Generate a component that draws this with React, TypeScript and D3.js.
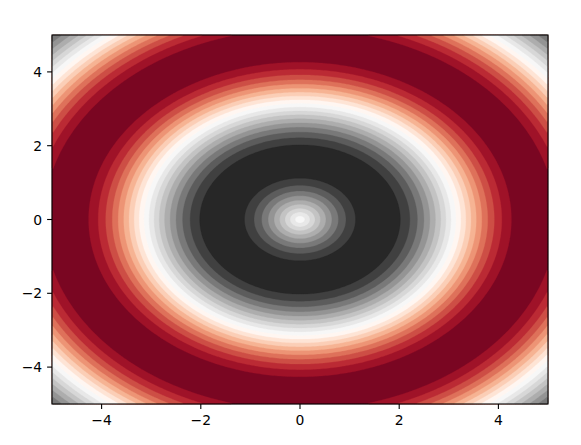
import React, { useEffect, useRef } from 'react'
import * as d3 from 'd3'

const xDomain = [-5, 5]
const yDomain = [-5, 5]
const levels = [-1.0, -0.9, -0.8, -0.7, -0.6, -0.5, -0.4, -0.3, -0.2, -0.1, 0.0, 0.1, 0.2, 0.3, 0.4, 0.5, 0.6, 0.7, 0.8, 0.9, 1.0]
const xTicks = [-4, -2, 0, 2, 4]
const yTicks = [-4, -2, 0, 2, 4]
// matplotlib RdGy stops
const rdgyStops = ['#67001f', '#b2182b', '#d6604d', '#f4a582', '#fddbc7', '#ffffff', '#e0e0e0', '#bababa', '#878787', '#4d4d4d', '#1a1a1a']
const gridSize = 240

const fmt = (v: number) => (v < 0 ? '\u2212' + Math.abs(v) : String(v))

export default function App() {
  const ref = useRef<SVGSVGElement | null>(null)

  useEffect(() => {
    const width = 581
    const height = 445
    const margin = { top: 35, right: 33, bottom: 41, left: 52 }
    const svg = d3.select(ref.current!)
    svg.selectAll('*').remove()

    const x = d3.scaleLinear().domain(xDomain).range([margin.left, width - margin.right])
    const y = d3.scaleLinear().domain(yDomain).range([height - margin.bottom, margin.top])

    const cmap = d3.scaleLinear<string>()
      .domain(rdgyStops.map((_, i) => i / (rdgyStops.length - 1)))
      .range(rdgyStops)
      .interpolate(d3.interpolateRgb)
    const lo = levels[0], hi = levels[levels.length - 1]
    const bandColor = (i: number) => cmap(((levels[i] + levels[i + 1]) / 2 - lo) / (hi - lo))

    // z = sin(r) sampled at cell centres
    const n = gridSize
    const dx = (xDomain[1] - xDomain[0]) / n
    const dy = (yDomain[1] - yDomain[0]) / n
    const values = new Array(n * n)
    for (let j = 0; j < n; j++) {
      const yy = yDomain[0] + (j + 0.5) * dy
      for (let i = 0; i < n; i++) {
        const xx = xDomain[0] + (i + 0.5) * dx
        values[j * n + i] = Math.sin(Math.sqrt(xx * xx + yy * yy))
      }
    }

    const contours = d3.contours().size([n, n]).thresholds(levels.slice(0, -1))(values)
    const proj = d3.geoTransform({
      point: function (px: number, py: number) {
        this.stream.point(x(xDomain[0] + px * dx), y(yDomain[0] + py * dy))
      }
    })
    const path = d3.geoPath(proj)

    const g = svg.append('g')
    g.append('rect')
      .attr('x', x(xDomain[0])).attr('y', y(yDomain[1]))
      .attr('width', x(xDomain[1]) - x(xDomain[0])).attr('height', y(yDomain[0]) - y(yDomain[1]))
      .attr('fill', bandColor(0))
    g.selectAll('path.band').data(contours).enter().append('path')
      .attr('class', 'band')
      .attr('d', d => path(d as any))
      .attr('fill', (d, i) => bandColor(i))
      .attr('stroke', (d, i) => bandColor(i))
      .attr('stroke-width', 0.3)

    // spines
    svg.append('rect')
      .attr('x', x(xDomain[0])).attr('y', y(yDomain[1]))
      .attr('width', x(xDomain[1]) - x(xDomain[0])).attr('height', y(yDomain[0]) - y(yDomain[1]))
      .attr('fill', 'none').attr('stroke', '#000').attr('stroke-width', 1.1)

    const tickLen = 4.9
    const font = 'DejaVu Sans'
    const xb = y(yDomain[0])
    const xa = svg.append('g')
    xTicks.forEach(t => {
      xa.append('line').attr('x1', x(t)).attr('x2', x(t)).attr('y1', xb).attr('y2', xb + tickLen)
        .attr('stroke', '#000').attr('stroke-width', 1.1)
      xa.append('text').attr('x', x(t)).attr('y', xb + 20.5).attr('text-anchor', 'middle')
        .attr('font-family', font).attr('font-size', 13.9).attr('fill', '#000').text(fmt(t))
    })
    const yl = x(xDomain[0])
    const ya = svg.append('g')
    yTicks.forEach(t => {
      ya.append('line').attr('x1', yl - tickLen).attr('x2', yl).attr('y1', y(t)).attr('y2', y(t))
        .attr('stroke', '#000').attr('stroke-width', 1.1)
      ya.append('text').attr('x', yl - 9.8).attr('y', y(t) + 5).attr('text-anchor', 'end')
        .attr('font-family', font).attr('font-size', 13.9).attr('fill', '#000').text(fmt(t))
    })
  }, [])

  return (
    <svg ref={ref} width={581} height={445}
      style={{ position: 'absolute', left: 0, top: 0, background: '#fff' }} />
  )
}
